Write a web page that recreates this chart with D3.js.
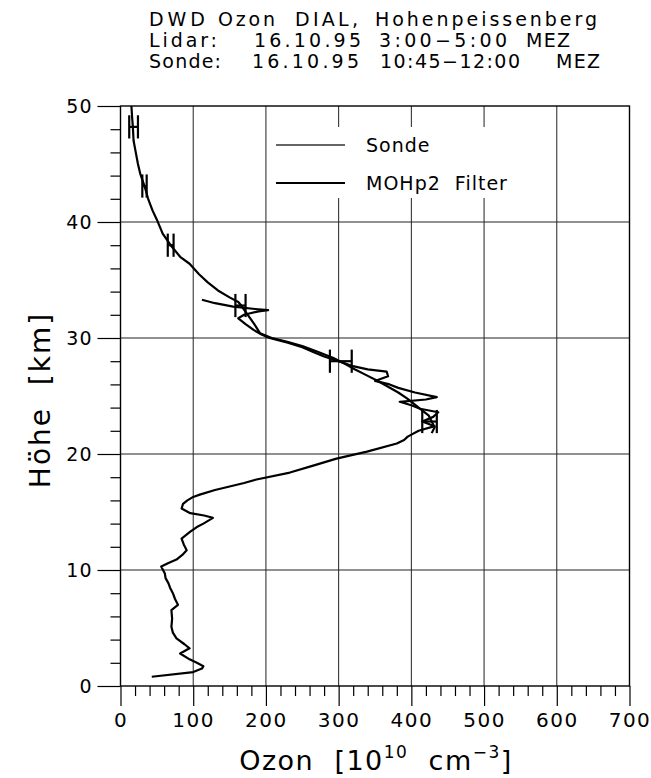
<!DOCTYPE html>
<meta charset="utf-8">
<style>
body { margin: 0; background: #fff; }
text { font-family: "DejaVu Sans", sans-serif; fill: #000; }
.domain { display: none; }
</style>
<svg width="651" height="778"></svg>
<script src="https://cdn.jsdelivr.net/npm/d3@7"></script>
<script>

// Sonde profile (altitude km, ozone 1e10 cm^-3) bottom to top
var sondeH = [0.8,1.2,1.5,1.7,2.0,2.3,2.8,3.25,3.6,4.1,4.6,5.1,5.8,6.55,7.0,7.5,8.0,8.5,8.85,9.3,
  9.7,10.3,10.6,10.9,11.3,11.7,12.2,12.7,13.3,13.7,14.0,14.3,14.5,14.7,14.9,15.3,15.7,16.0,16.3,16.5,
  16.9,17.2,17.5,17.8,18.4,19.0,19.6,20.2,20.9,21.2,21.5,22.0,22.4,22.8,23.2,23.6,23.9,24.2,24.5,24.7,
  24.9,25.3,25.7,26.0,26.3,26.7,27.1,27.3,27.6,28.0,28.4,28.8,29.2,29.6,30.0,30.3,30.7,31.2,31.7,32.0,
  32.3,32.4,32.5,32.7,33.0,33.3];
var sondeO = [43,100,112,114,105,95,82,95,88,77,72,70,71,70,79,75,72,68,66,62,
  61,56,66,77,85,91,87,84,96,105,114,122,127,115,96,84,86,92,100,109,
  130,150,170,187,233,265,297,339,380,390,395,410,432,415,430,437,412,400,384,420,
  435,405,382,370,350,368,366,340,318,300,280,265,250,230,205,194,183,172,162,170,
  190,203,185,155,130,112];

// Lidar (MOHp2 Filter)
var lidarH = [21.8,22.3,22.8,23.3,23.8,24.3,24.8,25.3,25.8,26.3,26.8,27.3,27.8,28.3,28.8,29.3,29.7,30.0,30.4,31.2,
  32.0,32.8,33.1,33.5,34.1,34.8,35.5,36.4,37.0,38.0,39.0,40.2,41.0,42.0,43.1,44.2,45.0,46.0,47.0,48.2,49.0,50.0];
var lidarO = [428,432,428,424,414,404,394,382,368,354,338,322,308,292,272,250,228,208,192,184,
  175,166,162,150,134,120,108,95,82,69,58,50,44,38,33,27,24,21,18,17,16,15];

// lidar error bars
var errH = [48.2, 43.1, 38.0, 32.8, 28.0, 22.8];
var errO = [18, 33, 69, 165, 303, 425];
var errD = [6, 3, 4, 7, 15, 10];

var xMajor = [0,100,200,300,400,500,600,700];
var yMajor = [0,10,20,30,40,50];

var svg = d3.select("svg");

var x = d3.scaleLinear().domain([0, 700]).range([120.5, 629.5]);
var y = d3.scaleLinear().domain([0, 50]).range([686, 106]);

var xMinor = d3.range(0, 701, 20).filter(function(d) { return d % 100; });
var yMinor = d3.range(0, 51, 2).filter(function(d) { return d % 10; });

// grid
svg.append("g")
    .attr("stroke", "#222")
    .attr("stroke-width", 1)
  .selectAll("line")
  .data(xMajor.slice(1, -1))
  .enter().append("line")
    .attr("x1", function(d) { return x(d); })
    .attr("x2", function(d) { return x(d); })
    .attr("y1", y(50))
    .attr("y2", y(0));

svg.append("g")
    .attr("stroke", "#222")
    .attr("stroke-width", 1)
  .selectAll("line")
  .data(yMajor.slice(1, -1))
  .enter().append("line")
    .attr("x1", x(0))
    .attr("x2", x(700))
    .attr("y1", function(d) { return y(d); })
    .attr("y2", function(d) { return y(d); });

// axes
var xAxis = svg.append("g")
    .attr("transform", "translate(0," + y(0) + ")")
    .call(d3.axisBottom(x).tickValues(xMajor).tickSize(20).tickPadding(7).tickSizeOuter(0));
xAxis.selectAll("text").style("font-size", "20px").style("letter-spacing", "1.5px");
xAxis.selectAll("line").attr("stroke-width", 1.2);

svg.append("g")
    .attr("transform", "translate(0," + y(0) + ")")
    .call(d3.axisBottom(x).tickValues(xMinor).tickSize(10).tickFormat(""))
    .selectAll("line").attr("stroke-width", 1.2);

var yAxis = svg.append("g")
    .attr("transform", "translate(" + x(0) + ",0)")
    .call(d3.axisLeft(y).tickValues(yMajor).tickSize(23).tickPadding(5).tickSizeOuter(0));
yAxis.selectAll("text").style("font-size", "19px").style("letter-spacing", "1px");
yAxis.selectAll("line").attr("stroke-width", 1.2);

svg.append("g")
    .attr("transform", "translate(" + x(0) + ",0)")
    .call(d3.axisLeft(y).tickValues(yMinor).tickSize(10).tickFormat(""))
    .selectAll("line").attr("stroke-width", 1.2);

// frame
svg.append("rect")
    .attr("x", x(0)).attr("y", y(50))
    .attr("width", x(700) - x(0)).attr("height", y(0) - y(50))
    .attr("fill", "none").attr("stroke", "#000").attr("stroke-width", 1.4);

// legend (white box hides the grid)
var lg = svg.append("g");
lg.append("rect")
    .attr("x", 270).attr("y", 127).attr("width", 280).attr("height", 71)
    .attr("fill", "#fff");
var legendItems = ["Sonde", "MOHp2  Filter"];
lg.selectAll("line")
  .data(legendItems)
  .enter().append("line")
    .attr("x1", 276).attr("x2", 345)
    .attr("y1", function(d, i) { return 145 + i * 38; })
    .attr("y2", function(d, i) { return 145 + i * 38; })
    .attr("stroke", function(d, i) { return i ? "#000" : "#333"; })
    .attr("stroke-width", function(d, i) { return i ? 2 : 1.7; });
lg.selectAll("text")
  .data(legendItems)
  .enter().append("text")
    .attr("x", 366)
    .attr("y", function(d, i) { return 152 + i * 38; })
    .attr("xml:space", "preserve")
    .style("font-size", "19px")
    .style("letter-spacing", "1px")
    .text(function(d) { return d; });

// curves
var line = d3.line()
    .x(function(d) { return x(d[1]); })
    .y(function(d) { return y(d[0]); });

svg.append("path")
    .datum(d3.zip(sondeH, sondeO))
    .attr("fill", "none")
    .attr("stroke", "#000")
    .attr("stroke-width", 2.2)
    .attr("stroke-linejoin", "round")
    .attr("d", line);

svg.append("path")
    .datum(d3.zip(lidarH, lidarO))
    .attr("fill", "none")
    .attr("stroke", "#000")
    .attr("stroke-width", 2.2)
    .attr("stroke-linejoin", "round")
    .attr("d", line);

// error bars
var eb = svg.append("g").attr("stroke", "#000").attr("stroke-width", 2.2);
errH.forEach(function(h, i) {
  var lo = errO[i] - errD[i], hi = errO[i] + errD[i];
  eb.append("line").attr("x1", x(lo)).attr("x2", x(hi)).attr("y1", y(h)).attr("y2", y(h));
  [lo, hi].forEach(function(v) {
    eb.append("line").attr("x1", x(v)).attr("x2", x(v))
      .attr("y1", y(h - 1)).attr("y2", y(h + 1));
  });
});

// axis titles
var xt = svg.append("text")
    .attr("x", 376).attr("y", 770)
    .attr("text-anchor", "middle")
    .attr("xml:space", "preserve")
    .style("font-size", "27px")
    .style("letter-spacing", "1.5px");
xt.append("tspan").text("Ozon  [10");
xt.append("tspan").attr("dy", -12).style("font-size", "17px").text("10");
xt.append("tspan").attr("dy", 12).text("  cm");
xt.append("tspan").attr("dy", -12).style("font-size", "17px").text("\u22123");
xt.append("tspan").attr("dy", 12).text("]");

svg.append("text")
    .attr("transform", "translate(50,400) rotate(-90)")
    .attr("text-anchor", "middle")
    .attr("xml:space", "preserve")
    .style("font-size", "28px")
    .style("letter-spacing", "2px")
    .text("Höhe  [km]");

// title: [x, width, text] segments per line
var title = [
  [[149, 56, "DWD"], [218, 57, "Ozon"], [295, 63, "DIAL,"], [375, 222, "Hohenpeissenberg"]],
  [[149, 68, "Lidar:"], [254, 107, "16.10.95"], [379, 128, "3:00\u22125:00"], [526, 44, "MEZ"]],
  [[149, 72, "Sonde:"], [252, 107, "16.10.95"], [380, 140, "10:45\u221212:00"], [556, 44, "MEZ"]]
];
title.forEach(function(row, i) {
  row.forEach(function(seg) {
    svg.append("text")
        .attr("x", seg[0]).attr("y", 26 + i * 21)
        .attr("textLength", seg[1])
        .attr("lengthAdjust", "spacing")
        .style("font-size", "19px")
        .text(seg[2]);
  });
});

</script>
